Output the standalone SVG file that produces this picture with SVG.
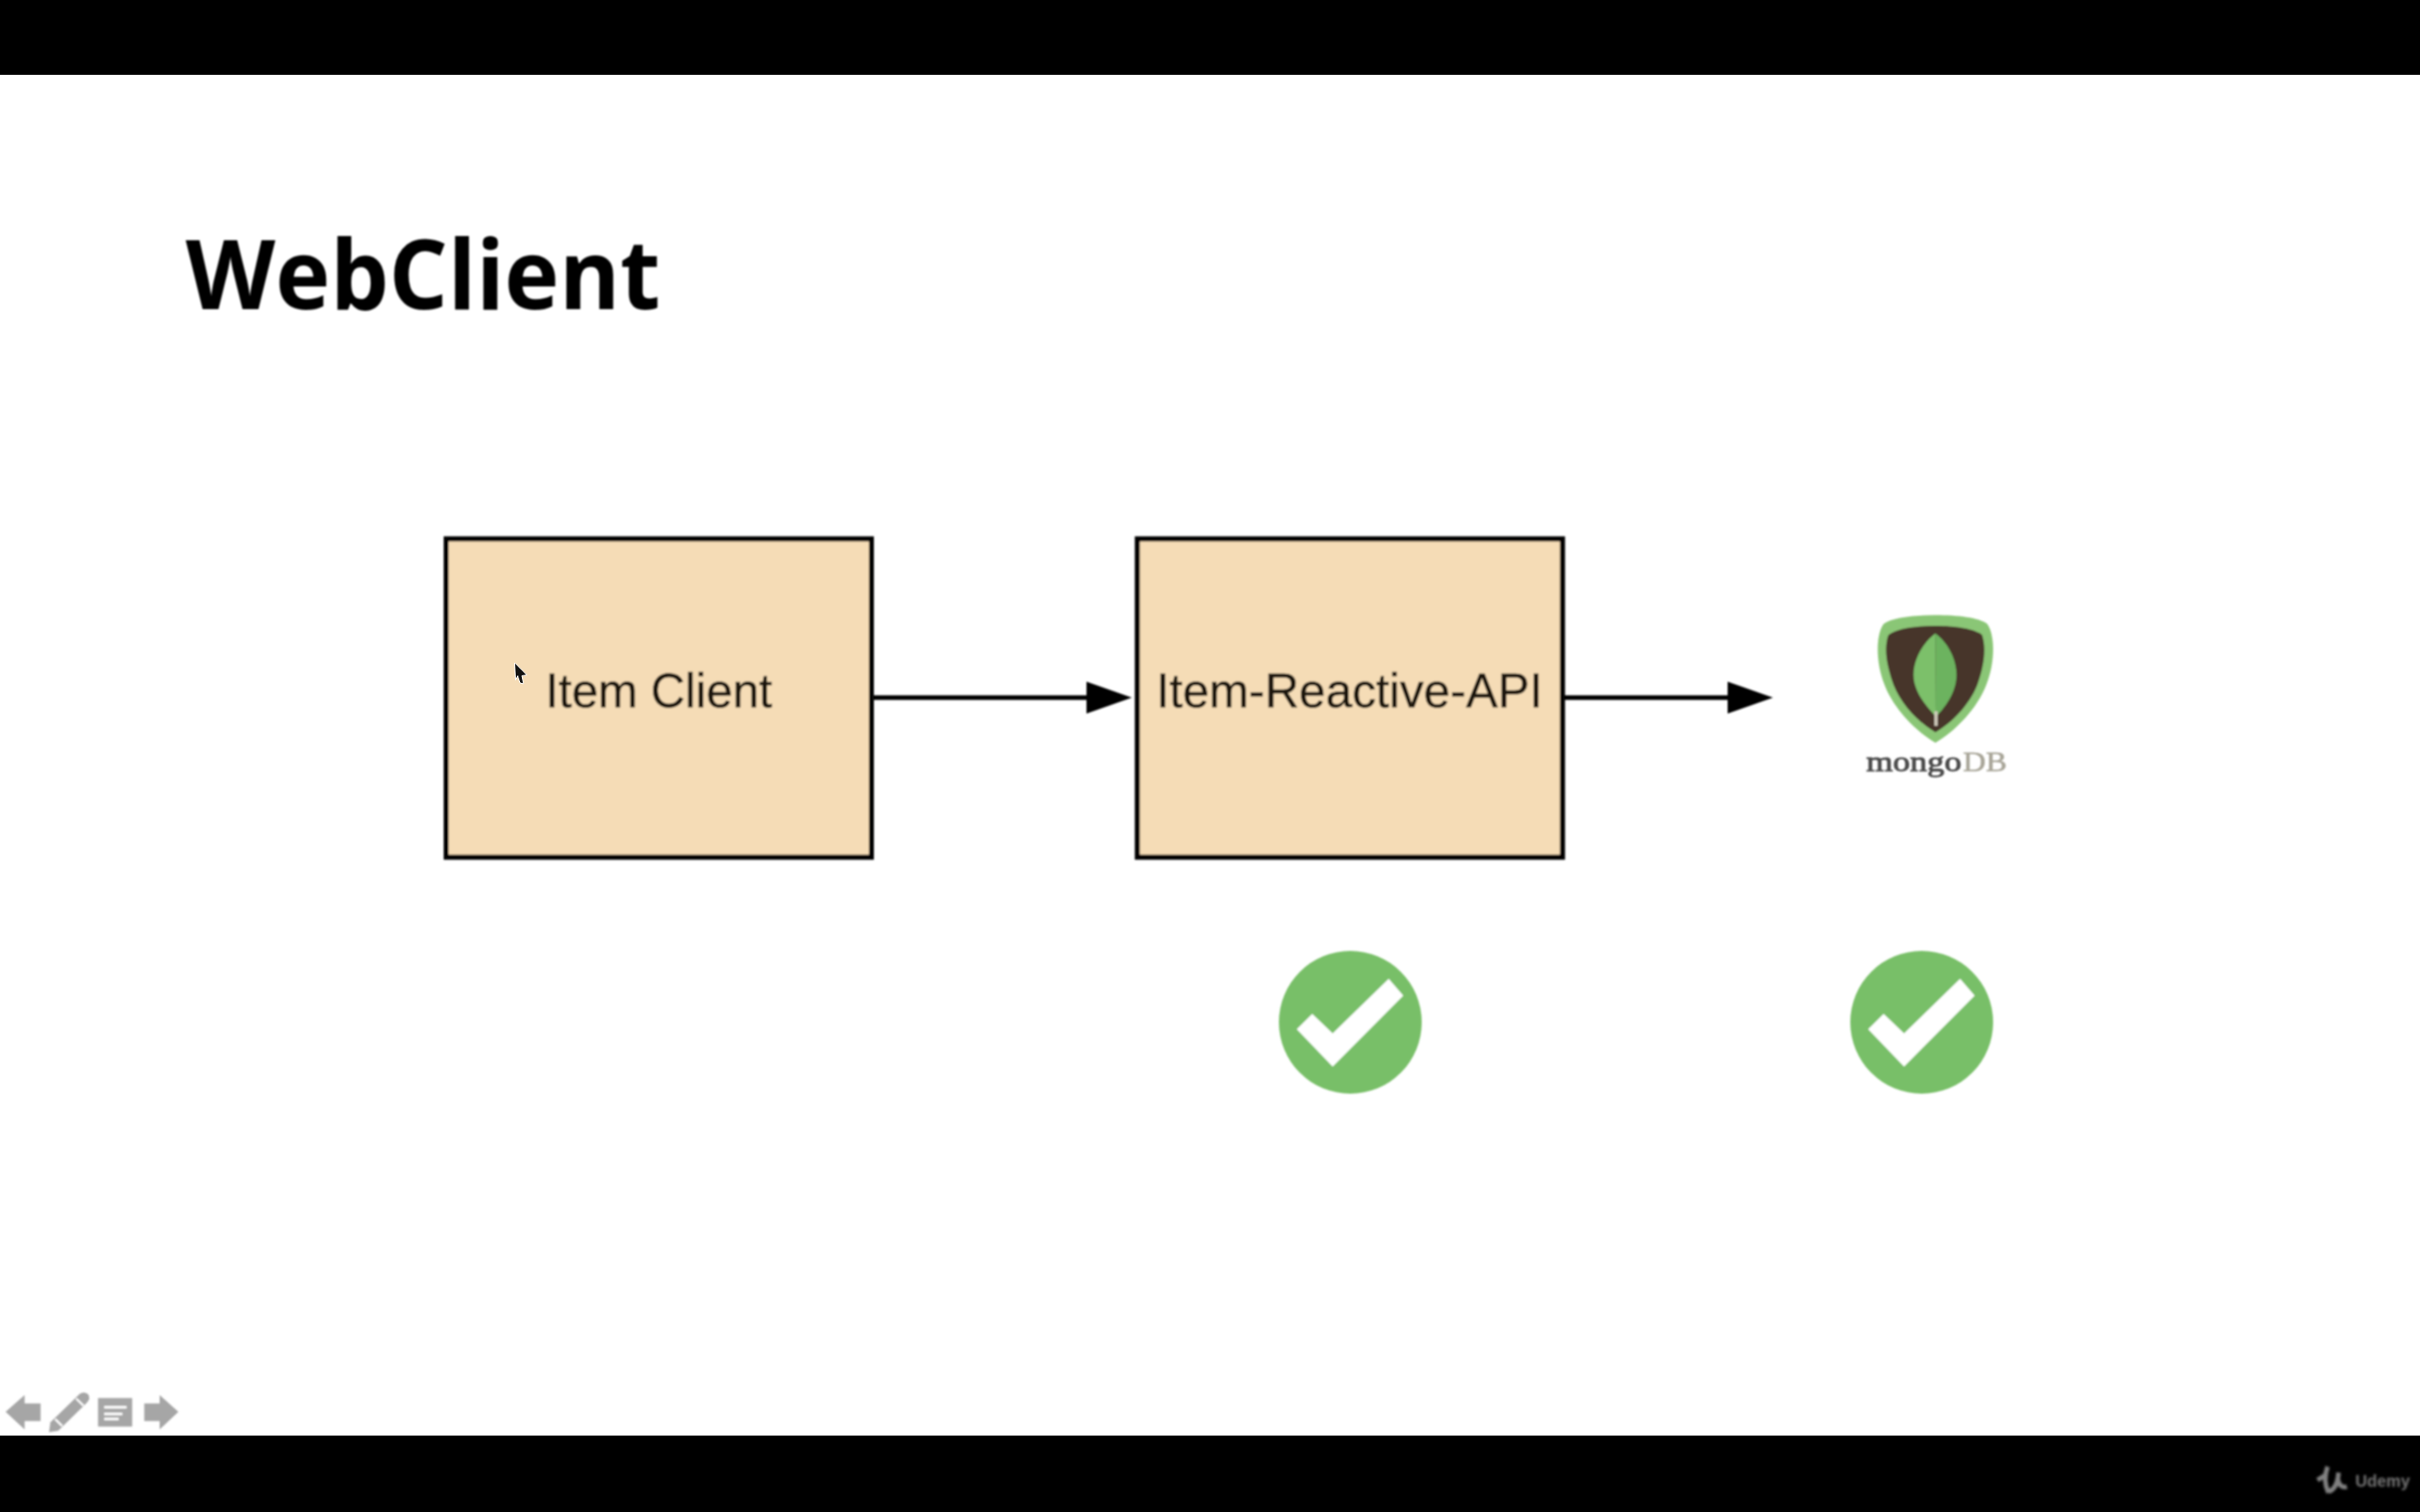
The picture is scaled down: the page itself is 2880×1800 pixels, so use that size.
<svg xmlns="http://www.w3.org/2000/svg" width="2880" height="1800" viewBox="0 0 2880 1800">
<style>
.box{fill:#f5dcb6;stroke:#050505;stroke-width:6}
.lbl{font-family:"Liberation Sans",Arial,sans-serif;font-size:56.5px;fill:#1c170d;stroke:#1c170d;stroke-width:0.6;text-anchor:middle}
.conn{stroke:#050505;stroke-width:5.5;fill:none}
.head{fill:#000}
.nav{fill:#a6a6a6}
.ok{fill:#78bf67}
</style>
<defs>
<filter id="soft" x="-10%" y="-10%" width="120%" height="120%"><feGaussianBlur stdDeviation="0.9"/></filter>
<filter id="softer" x="-10%" y="-10%" width="120%" height="120%"><feGaussianBlur stdDeviation="1.6"/></filter>
<filter id="scaled" x="-10%" y="-10%" width="120%" height="120%"><feGaussianBlur stdDeviation="3.5"/></filter>
<g id="tick" filter="url(#soft)"><circle class="ok" r="85"/><path fill="#fff" d="M-63.7,8.3 L-45.3,-10 L-21,13.3 L45.7,-51.7 L63,-31.7 L-21,52.7 Z"/></g>
</defs>
<rect width="2880" height="1800" fill="#ffffff"/>
<g id="bars"><rect width="2880" height="89" fill="#000"/><rect y="1709" width="2880" height="91" fill="#000"/></g>
<text id="title" x="221" y="368" font-family="'Open Sans','Noto Sans',sans-serif" font-weight="700" font-size="114" textLength="565" lengthAdjust="spacingAndGlyphs" fill="#000" filter="url(#soft)">WebClient</text>
<g id="connectors" filter="url(#soft)">
<line class="conn" x1="1038" y1="830.500" x2="1296" y2="830.500"/><path class="head" d="M1293,811.500 L1347,830.500 L1293,849.500 Z"/>
<line class="conn" x1="1860" y1="830.500" x2="2060" y2="830.500"/><path class="head" d="M2056,811.500 L2110,830.500 L2056,849.500 Z"/>
</g>
<g id="item-client" filter="url(#soft)"><rect class="box" x="531" y="641.500" width="506" height="379"/><text class="lbl" x="784" y="842">Item Client</text></g>
<g id="item-reactive-api" filter="url(#soft)"><rect class="box" x="1353.500" y="641.500" width="506" height="379"/><text class="lbl" x="1606" y="842" textLength="460" lengthAdjust="spacing">Item-Reactive-API</text></g>
<g id="mongodb" transform="translate(2160 700) scale(0.3333)" filter="url(#scaled)">
<path fill="#8ac676" d="M430,97 C510,97 585,106 615,128 C642,165 645,262 612,345 C580,430 500,512 430,553 C360,512 280,430 248,345 C215,262 218,165 245,128 C275,106 350,97 430,97 Z"/>
<path fill="#46352a" d="M430,135 C500,135 570,145 597,168 C612,215 605,275 580,345 C550,420 490,480 430,515 C370,480 310,420 280,345 C255,275 245,215 262,168 C290,145 360,135 430,135 Z"/>
<path fill="#7cc06a" d="M430,162 C380,200 352,260 352,310 C352,370 395,420 432,460 Z"/>
<path fill="#6cb35f" d="M430,162 C480,200 505,260 505,310 C505,370 470,420 432,460 Z"/>
<line x1="432" y1="440" x2="432" y2="492" stroke="#cfcabb" stroke-width="11"/>
<text x="183" y="655" font-family="'Liberation Serif',serif" font-size="100" stroke="#4a4a4a" stroke-width="3" textLength="340" lengthAdjust="spacingAndGlyphs" fill="#4a4a4a">mongo</text>
<text x="528" y="655" font-family="'Liberation Serif',serif" font-size="104" stroke="#a8a598" stroke-width="2" textLength="157" lengthAdjust="spacingAndGlyphs" fill="#a8a598">DB</text>
</g>
<use id="check-api" href="#tick" x="1607" y="1217"/>
<use id="check-mongo" href="#tick" x="2287" y="1217"/>
<path id="cursor" fill="#111" stroke="#fff" stroke-width="1" d="M612.500,789 L627,803.500 L621,804.500 L623,814 L619,813 L616,804.500 L613.500,809.500 Z"/>
<g id="nav" transform="translate(0 1630) scale(0.3333)" filter="url(#scaled)">
<path class="nav" d="M20,152 L88,92 L88,122 L145,122 L145,185 L88,185 L88,215 Z"/>
<path class="nav" d="M175,225 L180,190 L285,88 Q300,78 315,90 Q325,105 310,120 L208,220 Z"/>
<path d="M197,178 L222,203 M272,105 L298,130" stroke="#fff" stroke-width="7" fill="none"/>
<rect class="nav" x="350" y="103" width="122" height="102"/>
<path d="M372,136 H452 M372,160 H437 M372,178 H424" stroke="#fff" stroke-width="9" fill="none"/>
<path class="nav" d="M515,122 L570,122 L570,92 L637,152 L570,215 L570,185 L515,185 Z"/>
</g>
<g id="udemy" filter="url(#softer)">
<path d="M2758,1762 L2769,1755 M2771,1777 Q2764,1762 2770,1746 M2771,1776 Q2782,1772 2783,1753 M2782,1760 Q2784,1772 2793,1770" stroke="#808080" stroke-width="5.500" fill="none"/>
<text x="2803" y="1770" font-family="'Liberation Sans',sans-serif" font-weight="700" font-size="21" textLength="65" lengthAdjust="spacingAndGlyphs" fill="#757575">Udemy</text>
</g>
</svg>
